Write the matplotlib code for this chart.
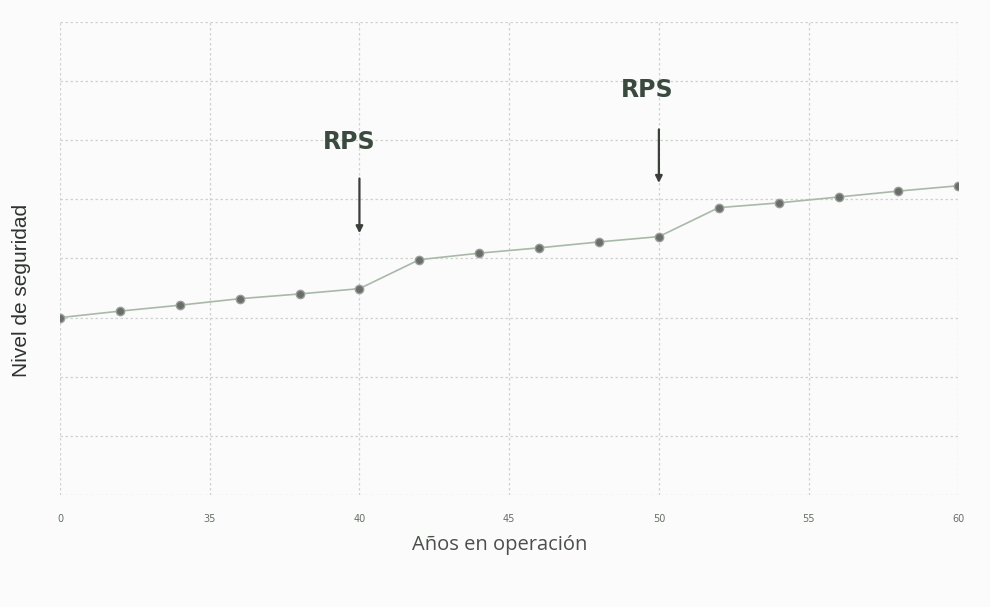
import numpy as np
import matplotlib.pyplot as plt

# años en operación y nivel de seguridad
years = [30, 32, 34, 36, 38, 40, 42, 44, 46, 48, 50, 52, 54, 56, 58, 60]
level = [3.00, 3.11, 3.21, 3.32, 3.40, 3.49, 3.98, 4.09, 4.18, 4.28, 4.37,
         4.86, 4.94, 5.04, 5.14, 5.23]

xticks = [30, 35, 40, 45, 50, 55, 60]
xtick_labels = ['0', '35', '40', '45', '50', '55', '60']

# flechas RPS: (x, y inicio, y fin, y texto, x texto)
rps_x = [40, 50]
rps_y_start = [5.40, 6.23]
rps_y_end = [4.38, 5.23]
rps_text_y = [5.97, 6.85]
rps_text_x = [39.65, 49.6]

fig = plt.figure(figsize=(9.9, 6.07), dpi=100, facecolor='#fbfbfb')
ax = fig.add_axes([0.0606, 0.1845, 0.9074, 0.7793])
ax.set_facecolor('#fbfbfb')

ax.plot(years, level, '-', color='#a9b9a9', lw=1.2, zorder=3)
ax.plot(years, level, 'o', color='#6a6e6a', markeredgecolor='#9a9e9a',
        markersize=6, zorder=4)

for x, y0, y1, ty, tx in zip(rps_x, rps_y_start, rps_y_end, rps_text_y, rps_text_x):
    ax.annotate('', xy=(x, y1), xytext=(x, y0),
                arrowprops=dict(arrowstyle='-|>', color='#3a3f3a', lw=1.6,
                                mutation_scale=10))
    ax.text(tx, ty, 'RPS', ha='center', va='center', fontsize=17,
            fontweight='bold', color='#3a4a3e', family='DejaVu Sans')

ax.set_xlim(30, 60)
ax.set_ylim(0, 8)
ax.set_xticks(xticks)
ax.set_xticklabels(xtick_labels)
ax.set_yticks(np.arange(0, 9, 1))
ax.set_yticklabels([])
ax.tick_params(axis='both', length=0, labelsize=7, labelcolor='#667066', pad=14)
ax.grid(True, color='#cfd3cf', lw=0.9, ls=(0, (2, 2)))
for s in ax.spines.values():
    s.set_visible(False)

ax.set_xlabel('Años en operación', fontsize=14.5, color='#4a4f4a', family='Open Sans')
ax.xaxis.set_label_coords(0.49, -0.084)
ax.set_ylabel('Nivel de seguridad', fontsize=15, color='#2f332f', family='Liberation Sans')
ax.yaxis.set_label_coords(-0.032, 0.433)

fig.savefig('out.png', dpi=100, facecolor=fig.get_facecolor())
